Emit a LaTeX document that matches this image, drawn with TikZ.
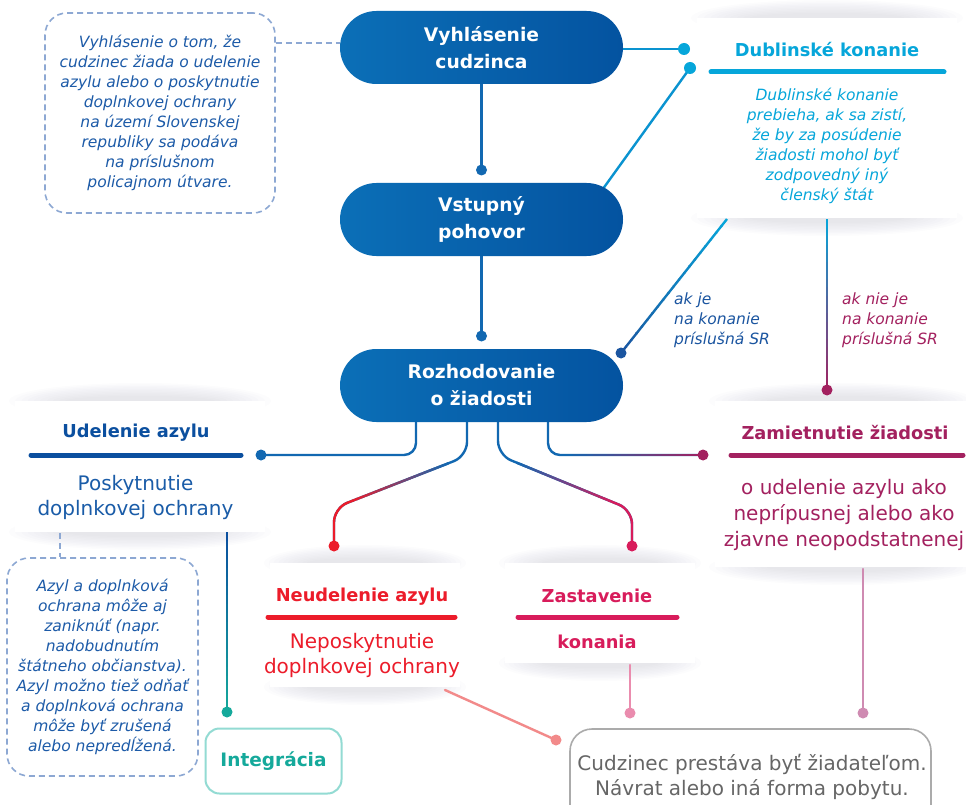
\documentclass[tikz,border=0pt]{standalone}
\usepackage{fontspec}
\setmainfont{DejaVu Sans}[ItalicFont={DejaVu Sans Oblique},BoldFont={DejaVu Sans Bold},BoldItalicFont={DejaVu Sans Bold Oblique}]
\usetikzlibrary{calc}
\definecolor{pillL}{HTML}{0B6FB7}
\definecolor{pillR}{HTML}{0453A0}
\definecolor{cblue}{HTML}{1268B1}
\definecolor{dashc}{HTML}{8DA8D3}
\definecolor{itblue}{HTML}{1D5BA8}
\definecolor{dcyan}{HTML}{06A6DA}
\definecolor{dline}{HTML}{0A93D0}
\definecolor{dkblue}{HTML}{1B55A0}
\definecolor{magc}{HTML}{A3215F}
\definecolor{udblue}{HTML}{0B4F9F}
\definecolor{udbody}{HTML}{1A5CA8}
\definecolor{redc}{HTML}{EC1C2A}
\definecolor{crim}{HTML}{D81C5B}
\definecolor{tealc}{HTML}{15A99B}
\definecolor{tealb}{HTML}{93DBD3}
\definecolor{grayt}{HTML}{666666}
\definecolor{grayb}{HTML}{ABABAB}
\definecolor{coral}{HTML}{F28A8A}
\definecolor{pinkc}{HTML}{EA8CAE}
\definecolor{mauve}{HTML}{CF8BB2}
\definecolor{shadc}{HTML}{4A4A60}
\pgfdeclarelayer{shadowlayer}
\pgfdeclarelayer{boxlayer}
\pgfdeclarelayer{linelayer}
\pgfsetlayers{shadowlayer,boxlayer,linelayer,main}
\newcommand\pillfont{\fontsize{18.7}{27}\selectfont\bfseries}
\newcommand\titlefont{\fontsize{17.8}{22}\selectfont\bfseries}
\newcommand\bodyfont{\fontsize{20}{25.8}\selectfont}
\newcommand\itfont{\fontsize{15.5}{20}\selectfont\itshape}
\newcommand\softell[3]{% cx, cy, half width
  \foreach \sk in {0,...,9}{%
    \fill[shadc, fill opacity=0.013] ({#1},{#2}) ellipse ({(#3)*(1-0.05*\sk)+6} and {17*(1-0.085*\sk)+1});
  }}
\newcommand\shbox[5]{%
  \begin{pgfonlayer}{shadowlayer}
    \softell{(#2+#4)/2}{#3}{(#4-#2)/2}
    \softell{(#2+#4)/2}{#5}{(#4-#2)/2}
  \end{pgfonlayer}
  \begin{pgfonlayer}{boxlayer}
    \node[fill=white, inner sep=0, minimum width={#4-#2}, minimum height={#5-#3}] (#1) at ({(#2+#4)/2},{(#3+#5)/2}) {};
  \end{pgfonlayer}}
\newcommand\gradln[4]{%
  \foreach \gi in {0,...,19}{%
    \pgfmathsetmacro\ga{\gi/20}%
    \pgfmathsetmacro\gb{min(1,(\gi+1.1)/20)}%
    \pgfmathtruncatemacro\gp{(\gi+0.5)*5}%
    \draw[conn, line cap=butt, color=#4!\gp!#3] ($(#1)!\ga!(#2)$) -- ($(#1)!\gb!(#2)$);
  }}
\tikzset{
  pill/.style={minimum width=283, minimum height=73, rounded corners=36.5, left color=pillL, right color=pillR, draw=none, text=white, font=\pillfont, align=center, inner sep=0},
  dbox/.style={draw=dashc, dash pattern=on 6pt off 4pt, line width=1.6pt, rounded corners=22, align=center, font=\itfont, text=itblue, inner sep=0},
  conn/.style={line width=2.4pt, line cap=round},
  uline/.style={line width=5pt, line cap=round},
  ttl/.style={font=\titlefont, anchor=base, inner sep=0},
  body/.style={font=\bodyfont, align=center, inner sep=0},
}
\begin{document}
\begin{tikzpicture}[x=1pt,y=-1pt]
\useasboundingbox (0,0) rectangle (966,805);
\begin{pgfonlayer}{shadowlayer}
\fill[white] (0,0) rectangle (966,805);
\end{pgfonlayer}

% pills
\node[pill] (p1) at (481.5,47.5) {Vyhlásenie\\cudzinca};
\node[pill] (p2) at (481.5,219.5) {Vstupný\\pohovor};
\node[pill] (p3) at (481.5,385.5) {Rozhodovanie\\o žiadosti};

% dashed note boxes
\node[dbox, minimum width=230, minimum height=200] (n1) at (160,113) {Vyhlásenie o tom, že\\cudzinec žiada o udelenie\\azylu alebo o poskytnutie\\doplnkovej ochrany\\na území Slovenskej\\republiky sa podáva\\na príslušnom\\policajnom útvare.};
\node[dbox, minimum width=191, minimum height=218] (n2) at (102.5,667) {Azyl a doplnková\\ochrana môže aj\\zaniknúť (napr.\\nadobudnutím\\štátneho občianstva).\\Azyl možno tiež odňať\\a doplnková ochrana\\môže byť zrušená\\alebo nepredĺžená.};

% shadowed white boxes
\shbox{dub}{697}{18}{957}{218}
\shbox{ud}{15}{401}{265}{532}
\shbox{zam}{715}{401}{970}{567}
\shbox{neu}{270}{563}{460}{687}
\shbox{zas}{505}{563}{695}{663}

% Dublin
\node[ttl, text=dcyan] (dubt) at (827,57) {Dublinské konanie};
\draw[uline, dcyan] (711,72) -- (944,72);
\node[font=\itfont, align=center, inner sep=0, text=dcyan] (dubb) at (827,146) {Dublinské konanie\\prebieha, ak sa zistí,\\že by za posúdenie\\žiadosti mohol byť\\zodpovedný iný\\členský štát};

% Udelenie
\node[ttl, text=udblue] (udt) at (136,437) {Udelenie azylu};
\draw[uline, udblue] (31,455) -- (241,455);
\node[body, text=udbody] (udb) at (135.5,497.5) {Poskytnutie\\doplnkovej ochrany};

% Zamietnutie
\node[ttl, text=magc] (zamt) at (845,439) {Zamietnutie žiadosti};
\draw[uline, magc] (731,455) -- (963,455);
\node[body, text=magc] (zamb) at (844,515) {o udelenie azylu ako\\neprípusnej alebo ako\\zjavne neopodstatnenej};

% Neudelenie
\node[ttl, text=redc] (neut) at (362,601.5) {Neudelenie azylu};
\draw[uline, redc] (268,617) -- (455,617);
\node[body, text=redc] (neub) at (362,655.5) {Neposkytnutie\\doplnkovej ochrany};

% Zastavenie
\node[ttl, text=crim] (zast) at (597,602) {Zastavenie};
\draw[uline, crim] (518,617) -- (677,617);
\node[ttl, text=crim] (zasb) at (597,648) {konania};

% labels
\node[font=\itfont, align=left, anchor=west, inner sep=0, text=dkblue] (lak) at (674,320) {ak je\\na konanie\\príslušná SR};
\node[font=\itfont, align=left, anchor=west, inner sep=0, text=magc] (lnie) at (842,320) {ak nie je\\na konanie\\príslušná SR};

% Integracia
\node[draw=tealb, line width=2pt, rounded corners=14, minimum width=136, minimum height=65, text=tealc, font=\fontsize{18.5}{22}\selectfont\bfseries, inner sep=0] (integ) at (273.5,761) {Integrácia};

% bottom box
\begin{scope}
\clip (0,0) rectangle (966,805);
\node[draw=grayb, line width=1.6pt, rounded corners=22, minimum width=361, minimum height=104, inner sep=0] (bot) at (750.5,781) {};
\end{scope}
\node[body, text=grayt] (bott) at (752,777) {Cudzinec prestáva byť žiadateľom.\\Návrat alebo iná forma pobytu.};

% coordinates
\coordinate (d1) at (481.5,170);
\coordinate (d2) at (481.5,336);
\coordinate (d3) at (684,49);
\coordinate (p2r) at (600,193);
\coordinate (d4) at (690,68);
\coordinate (s5) at (727,219);
\coordinate (d5) at (621,353);
\coordinate (s6) at (827,219);
\coordinate (d6) at (827,390);
\coordinate (aA) at (416,418);
\coordinate (aA1) at (416,455);
\coordinate (dA) at (261,455);
\coordinate (bB) at (467,418);
\coordinate (bB1) at (467,456);
\coordinate (bB2) at (334,508);
\coordinate (dB) at (334,546);
\coordinate (cC) at (498,418);
\coordinate (cC1) at (498,455);
\coordinate (cC2) at (632,510);
\coordinate (dC) at (632,546);
\coordinate (eD) at (548,418);
\coordinate (eD1) at (548,455);
\coordinate (dD) at (703,455);
\coordinate (s11) at (227,532);
\coordinate (d11) at (227,712);
\coordinate (s12) at (60,533);
\coordinate (s13) at (445,690);
\coordinate (d13) at (556,740);
\coordinate (s14) at (630,665);
\coordinate (d14) at (630,713);
\coordinate (s15) at (863,569);
\coordinate (d15) at (863,713);
\coordinate (bBg1) at ($(bB1)!0.14!(bB2)$);
\coordinate (bBg2) at ($(bB1)!0.86!(bB2)$);
\coordinate (cCg1) at ($(cC1)!0.14!(cC2)$);
\coordinate (cCg2) at ($(cC1)!0.86!(cC2)$);
\coordinate (eDg) at (566,455);

\begin{pgfonlayer}{linelayer}
  \draw[dashc, dash pattern=on 6pt off 4pt, line width=1.6pt] (n1.east |- 0,43) -- (p1.west |- 0,43);
  \draw[dashc, dash pattern=on 6pt off 4pt, line width=1.6pt] (s12) -- (s12 |- n2.north);
  \draw[conn, cblue] (p1.south) -- (d1);
  \draw[conn, cblue] (p2.south) -- (d2);
  \draw[conn, dline] (p1.east |- d3) -- (d3);
  \draw[conn, dline] (p2r) -- (d4);
  \gradln{s5}{d5}{dcyan}{dkblue}
  \gradln{s6}{d6}{dcyan}{magc}
  \draw[conn, cblue, rounded corners=12] (aA) -- (aA1) -- (dA);
  \draw[conn, cblue, rounded corners=14] (bB) -- (bB1) -- (bB2) -- (dB);
  \draw[conn, redc, rounded corners=14] (bBg2) -- (bB2) -- (dB);
  \gradln{bBg1}{bBg2}{cblue}{redc}
  \draw[conn, cblue, rounded corners=14] (cC) -- (cC1) -- (cC2) -- (dC);
  \draw[conn, crim, rounded corners=14] (cCg2) -- (cC2) -- (dC);
  \gradln{cCg1}{cCg2}{cblue}{crim}
  \draw[conn, cblue, rounded corners=12] (eD) -- (eD1) -- (dD);
  \gradln{eDg}{dD}{cblue}{magc}
  \gradln{s11}{d11}{udblue}{tealc}
  \draw[conn, coral] (s13) -- (d13);
  \draw[conn, pinkc] (s14) -- (d14);
  \draw[conn, mauve] (s15) -- (d15);
\end{pgfonlayer}

% dots
\fill[cblue] (d1) circle (5.5);
\fill[cblue] (d2) circle (5.5);
\fill[dcyan] (d3) circle (6);
\fill[dcyan] (d4) circle (6);
\fill[dkblue] (d5) circle (5.5);
\fill[magc] (d6) circle (5.5);
\fill[cblue] (dA) circle (5.5);
\fill[redc] (dB) circle (5.5);
\fill[crim] (dC) circle (5.5);
\fill[magc] (dD) circle (5.5);
\fill[tealc] (d11) circle (5.5);
\fill[coral] (d13) circle (5.5);
\fill[pinkc] (d14) circle (5.5);
\fill[mauve] (d15) circle (5.5);
\end{tikzpicture}
\end{document}
